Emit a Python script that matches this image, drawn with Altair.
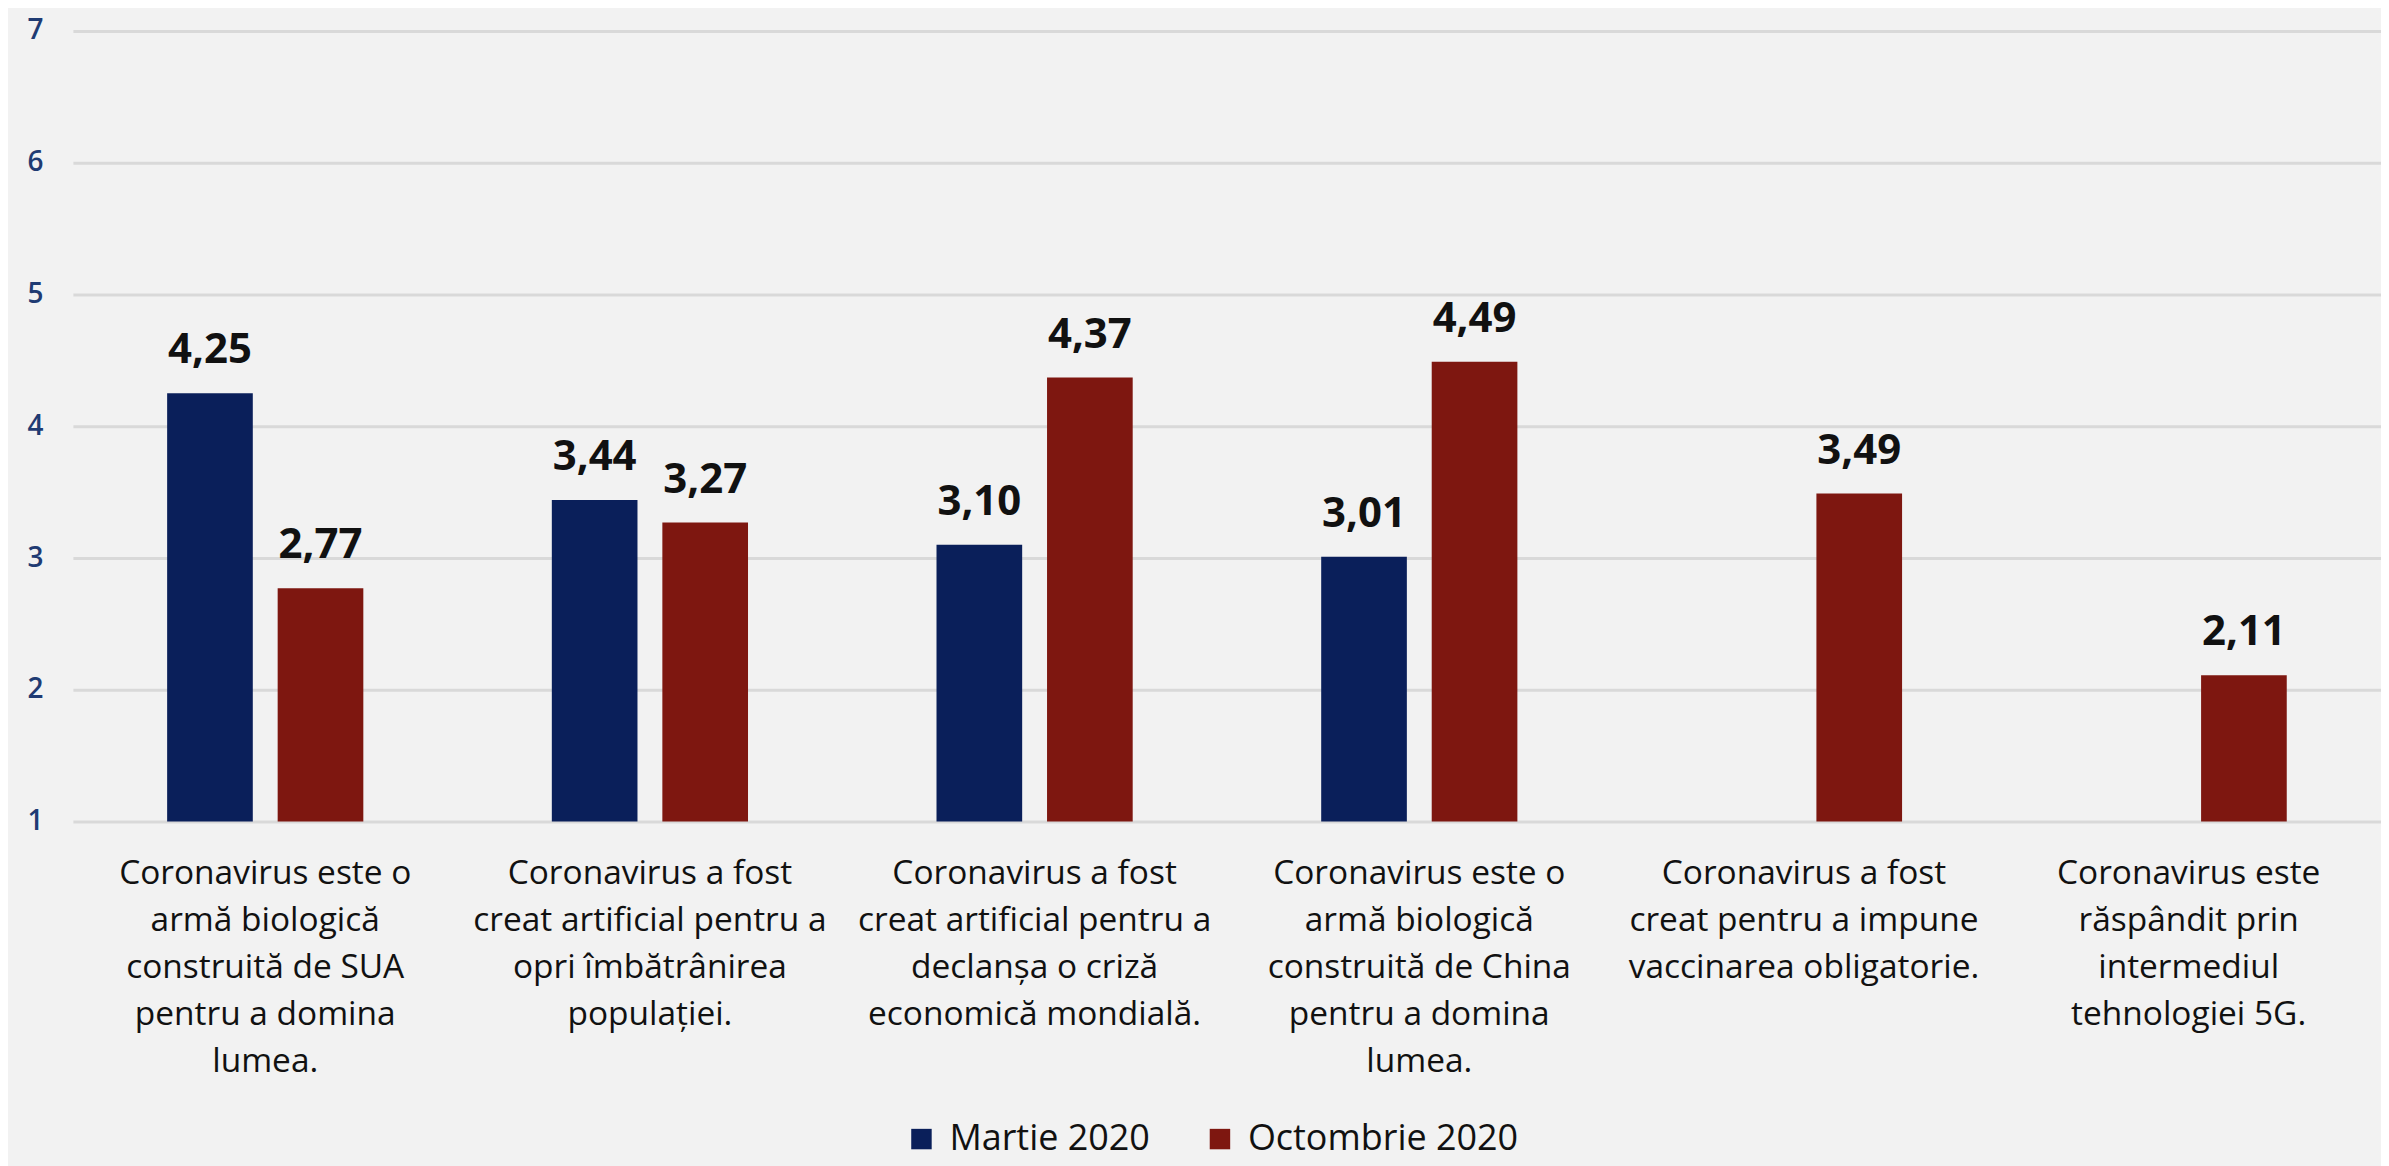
import altair as alt
import pandas as pd

categories = [
    ["Coronavirus este o", "armă biologică", "construită de SUA", "pentru a domina", "lumea."],
    ["Coronavirus a fost", "creat artificial pentru a", "opri îmbătrânirea", "populației."],
    ["Coronavirus a fost", "creat artificial pentru a", "declanșa o criză", "economică mondială."],
    ["Coronavirus este o", "armă biologică", "construită de China", "pentru a domina", "lumea."],
    ["Coronavirus a fost", "creat pentru a impune", "vaccinarea obligatorie."],
    ["Coronavirus este", "răspândit prin", "intermediul", "tehnologiei 5G."],
]
series = ["Martie 2020", "Octombrie 2020"]
martie = [4.25, 3.44, 3.10, 3.01, None, None]
octombrie = [2.77, 3.27, 4.37, 4.49, 3.49, 2.11]
colors = ["#0A1F5A", "#7E1710"]
y_ticks = [1, 2, 3, 4, 5, 6, 7]

cat_keys = ["|".join(c) for c in categories]
rows = []
for key, m, o in zip(cat_keys, martie, octombrie):
    for s, v in zip(series, [m, o]):
        if v is not None:
            rows.append({"cat": key, "serie": s, "val": v,
                         "lbl": f"{v:.2f}".replace(".", ",")})
df = pd.DataFrame(rows)

FONT = "Open Sans"

x = alt.X("cat:N", sort=cat_keys, title=None,
          scale=alt.Scale(paddingInner=0.49, paddingOuter=0.245),
          axis=alt.Axis(labelExpr="split(datum.value, '|')", labelAngle=0,
                        labelFont=FONT, labelFontSize=33.5, labelColor="#111111",
                        labelLineHeight=47, labelPadding=36, labelLimit=0,
                        labelOverlap=False, labelBound=False, labelFlush=False,
                        ticks=False, domain=False, labelBaseline="top"))
xo = alt.XOffset("serie:N", sort=series,
                 scale=alt.Scale(paddingInner=0.225, paddingOuter=0))
y = alt.Y("val:Q", title=None,
          scale=alt.Scale(domain=[1, 7], zero=False, nice=False),
          axis=alt.Axis(values=y_ticks, format="d", labelFont=FONT, labelFontSize=28,
                        labelFontWeight=600, labelColor="#1F3B73", labelPadding=30,
                        ticks=False, domain=False, grid=True, gridColor="#D9D9D9",
                        gridWidth=3))

bars = alt.Chart(df).mark_bar().encode(
    x=x, xOffset=xo, y=y, y2=alt.datum(1),
    color=alt.Color("serie:N", sort=series,
                    scale=alt.Scale(domain=series, range=colors),
                    legend=alt.Legend(title=None, orient="none", direction="horizontal",
                                      legendX=832, legendY=1092,
                                      symbolType="square", symbolSize=420,
                                      symbolStrokeWidth=0, labelFont=FONT,
                                      labelFontSize=36, labelColor="#111111",
                                      labelOffset=10, columnPadding=52,
                                      labelLimit=0)),
)

texts = alt.Chart(df).mark_text(font=FONT, fontSize=42, fontWeight="bold",
                                color="#111111", baseline="alphabetic", dy=-30).encode(
    x=alt.X("cat:N", sort=cat_keys), xOffset=alt.XOffset("serie:N", sort=series),
    y=alt.Y("val:Q"), text="lbl:N",
)

chart = alt.layer(bars, texts).properties(
    width=2312, height=792,
    background="#F2F2F2",
    autosize=alt.AutoSizeParams(type="none"),
    padding={"left": 65, "top": 22, "right": 0, "bottom": 344},
).configure_view(stroke=None)

chart.save("out.html", embed_options={"renderer": "svg", "actions": False})
